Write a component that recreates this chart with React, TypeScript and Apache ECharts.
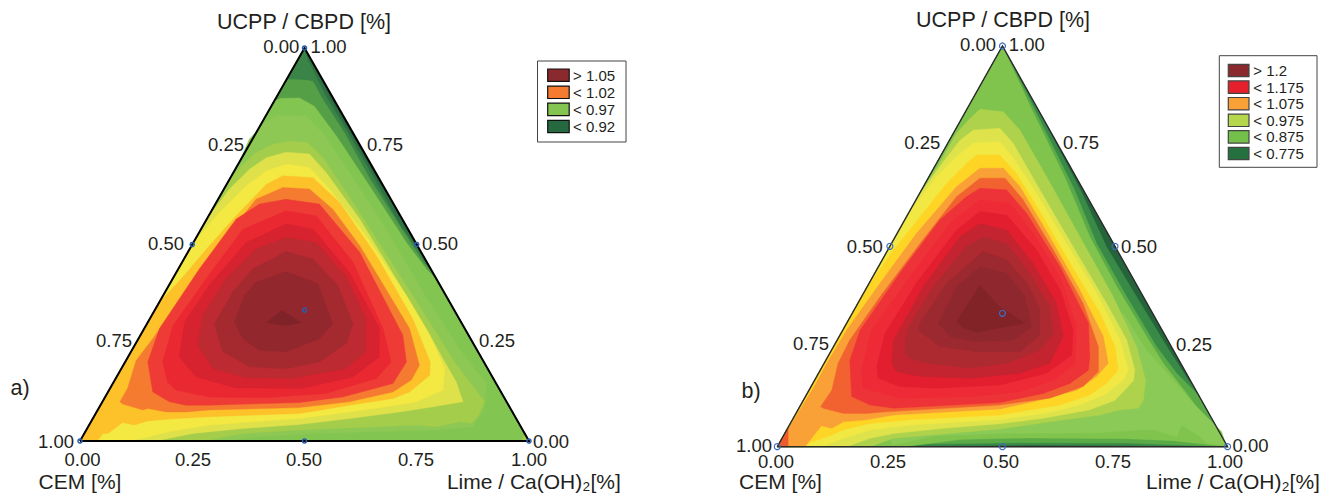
import React, { useEffect, useRef } from "react";
import * as echarts from "echarts";

type P = [number, number];
// Contour regions, in the plane of each ternary diagram:
// [position along the base in %, height towards the UCPP apex in %]
const triangle: P[] = [[0, 0], [100, 0], [50, 100]];

const aDark1: P[] = [[50,100],[51.1,97.5],[55.6,87.7],[60.3,78.4],[66.2,66.6],[71.8,56.5],[100,0],[0,0]];
const aDark2: P[] = [[50,100],[50.7,97],[54.8,87.7],[59.7,78.4],[65.6,66.6],[71.4,54.8],[76.9,46.3],[100,0],[0,0]];
const aGreen3: P[] = [[46,92],[47.4,92],[50.7,91.8],[51.9,91.5],[54.1,86.9],[58.9,78.4],[64.6,66.6],[71.2,54.8],[76.5,45.5],[78.8,42.5],[100,0],[0,0]];
const aGreen4: P[] = [[43.2,86.5],[44.8,87.2],[48.9,87.3],[52.2,85.2],[57.1,77.6],[64.5,64.9],[72.7,50.5],[77.1,43.8],[79.6,40.8],[100,0],[0,0]];
const aGreen5: P[] = [[35.4,70.8],[37.7,76.8],[40.7,80.6],[43.7,82.8],[50.4,82.7],[54.1,78.4],[60,68.3],[68.2,54],[76.4,37.9],[84.5,23.5],[90.5,14.6],[90.1,8.3],[87.5,3.6],[79.3,2.8],[69.7,2.5],[48.9,1.7],[40,1.1],[32.5,0],[0,0]];
const aOlive: P[] = [[32.9,65.8],[35.9,70],[39.2,73.4],[42.9,75.5],[46.7,76.3],[50.7,75.9],[54.1,72.1],[60.8,60.7],[68.9,46.3],[76.4,32.8],[83.4,20.1],[90.1,10],[88.6,6.2],[87.1,4.5],[84.5,4.9],[79.3,3.6],[74.9,4.1],[63.7,3.5],[48.9,2.8],[36.3,1.9],[27.3,0],[0,0]];
const aLime: P[] = [[28.5,56.9],[33.3,64.1],[37.7,69.1],[41.5,72.1],[45.9,73.5],[51.1,73],[54.8,68.3],[62.3,56.5],[70.4,41.3],[77.1,28.6],[80.8,21],[83.8,15],[85.3,10],[78.6,8.7],[71.2,7.4],[60,5.7],[48.9,4.2],[36.3,3.2],[25.1,1.9],[16.9,0],[0,0]];
const aYellow: P[] = [[24.7,49.7],[31.1,58.2],[37,64.9],[41.5,68.7],[45.9,70.4],[51.1,69.6],[55.6,64.1],[63.7,52.2],[72.7,37],[77.9,26.9],[81.2,18.4],[80.8,12.9],[74.9,10],[70.4,9.1],[60,7.4],[48.9,5.7],[28.8,4.1],[19.9,2.4],[11.4,0],[0,0]];
const aAmber: P[] = [[17.7,35.3],[22.9,41.7],[28.8,49.7],[34.8,57.3],[41.5,65.3],[45.2,67.5],[51.9,67],[57.8,60.7],[66,47.2],[74.1,31.1],[78,20.1],[77.9,16.7],[73.4,12.5],[69.7,10.8],[60,9.1],[48.9,7],[28.8,6.2],[19.9,5.6],[15.1,5.1],[12.1,4.1],[9.5,4.7],[6.2,1.9],[5.1,1.9],[3.9,0],[0,0]];
const aOrange: P[] = [[16.2,26],[12.5,20.5],[10.6,13.4],[8.9,10],[9.5,9.4],[14,7.9],[15.1,8.3],[19.2,7.4],[23.6,7.4],[28.8,7.9],[48.9,8.5],[60,10],[69.7,12.5],[73.8,15.5],[75.6,19.3],[73.4,28.6],[62.3,49.7],[56.3,59],[51.1,64.1],[45.2,64.5],[39.2,61.5],[36.3,57.3],[31.1,50.1],[25.1,40.4],[19.9,32]];
const aRed1: P[] = [[15.1,20.1],[17.7,28.6],[26.6,43.8],[34.8,56.5],[40,60.3],[45.9,61.5],[53.3,60.3],[62.3,48],[71.9,26.9],[72.7,20.1],[69.7,14.6],[58.5,11.2],[48.9,9.8],[28.8,9.1],[23.6,9.1],[19.9,10],[16.2,12.5]];
const aRed2: P[] = [[18.4,20.1],[20.7,29.4],[28.1,41.3],[36.3,53.9],[45.9,58.6],[52.6,57.3],[60.8,45.5],[67.5,28.6],[69.3,20.1],[66,15.9],[54.8,12.1],[41.5,11],[28.8,11.2],[21.4,12.9],[19.5,15]];
const aRed3: P[] = [[22.1,21.4],[23.3,30.3],[28.8,39.6],[37,50.5],[45.9,55.2],[51.9,53.9],[60,42.9],[66.7,28.6],[66.6,21.4],[60.8,16.3],[49.6,13.4],[34.8,13.5],[25.9,16.3]];
const aMaroon1: P[] = [[26.2,24.3],[27.3,32],[32.5,41.3],[39.2,48.9],[45.9,51.8],[52.6,50.5],[59.3,41.7],[63.7,31.1],[63.7,22.7],[59.3,18.4],[47.4,15.9],[37,16.1],[29.6,18.4]];
const aMaroon2: P[] = [[29.9,29.8],[34,37.9],[38.5,43.8],[45.9,48.2],[51.9,46.3],[57.4,39.6],[60.8,29.8],[59.3,24.8],[53.3,20.1],[45.9,18.4],[37.7,18.9],[31.8,22.7]];
const aMaroon3: P[] = [[34.4,30.3],[36.6,37],[39.2,40.4],[45.9,43.1],[53,40],[56.3,29.8],[53.3,26],[45.9,22.7],[40,23.1],[36.3,26]];
const aPeak: P[] = [[41.5,30.1],[45,33.2],[49.3,30.1],[45.9,29.4]];
const aCorner: P[] = [[98.3,0],[99.2,1.9],[100,0]];

const bDark1: P[] = [[50,100],[57.9,84],[67.3,64.1],[73.1,49.9],[79.8,37.4],[86.5,25],[91.3,16.6],[92.7,14.6],[100,0],[87.9,0],[77.6,0.3],[55.4,0.4],[33.2,0.2],[22.1,0],[0,0]];
const bDark2: P[] = [[50,100],[57.2,84],[66,64.1],[70.9,50.7],[77.6,37.4],[84.2,25],[88.7,18.3],[93.5,12.9],[100,0],[87.9,0.5],[77.6,0.9],[55.4,1],[33.2,0.7],[24.3,0],[0,0]];
const bGreen3: P[] = [[50,100],[56.2,84.9],[63.8,67.4],[69.4,52.4],[75.4,39.9],[82,27.5],[85.7,20.8],[90.9,13.3],[95.3,6.7],[100,0],[87.9,1.5],[77.6,2],[55.4,2.2],[40.6,1.8],[28,0],[0,0]];
const bGreen4: P[] = [[76.8,33.3],[82,24.1],[87.2,17.5],[92.4,10.8],[98.7,3.7],[99.6,0.4],[95.3,0.8],[93.9,2.5],[89.8,5.4],[88.7,2.5],[83.5,4.2],[80.5,4.2],[71.6,3.5],[49.4,3.3],[34.6,2.7],[25.8,0.4],[18.4,12.5],[40.6,45.8]];
const bOlive: P[] = [[32.4,64.5],[35.8,70.3],[39.8,78.2],[42.8,81.9],[45,84.2],[50.2,83.6],[53.9,79],[59.8,67.4],[67.2,52.4],[74.6,37.4],[79.8,25],[81.8,16.6],[81.3,11.6],[80.2,9.6],[76.1,9.2],[71.7,7.9],[60.5,6.2],[49.4,4.4],[36.9,3.2],[25.8,2.1],[20.6,0],[0,0]];
const bLime: P[] = [[28,56.2],[31.7,63.2],[36.9,71.1],[40.6,76.5],[43.5,79],[49.4,79.5],[52.4,75.7],[58.3,64.1],[65.7,49.9],[73.1,35.8],[77.6,26.6],[79.4,19.1],[79.1,16.6],[77.9,15],[75,11.6],[69.4,9.2],[59.1,7.1],[49.4,5.7],[36.9,4.6],[25.8,3.3],[20.6,2.1],[15.4,0],[0,0]];
const bYellow: P[] = [[25.4,50.7],[30.2,59.9],[35.4,67.4],[39.8,72.4],[43.5,75.7],[49.4,76.1],[52.4,72],[57.6,63.2],[64.2,50.7],[70.9,38.3],[76.1,26.6],[77.9,19.1],[76.8,16.6],[73.1,13.3],[67.2,10.4],[59.1,8.3],[49.4,6.8],[29.5,5.4],[20.6,4.2],[14.7,2.1],[9.8,0],[0,0]];
const bAmber: P[] = [[19.1,38.3],[25.8,49.1],[31.7,57.4],[37.6,65.7],[42,70.7],[44.3,72.8],[49.4,72.8],[53.1,68.2],[58.3,58.7],[65,45.8],[71.7,33.3],[75,25],[75.7,19.1],[73.1,15.8],[69.4,12.9],[62.8,10.4],[49.4,7.9],[29.5,6.7],[20.6,5.8],[14.7,4.2],[12.1,2.9],[7.6,1.2],[6.1,0],[0,0]];
const bLightOrange: P[] = [[8.4,15.4],[11,20.8],[15.4,29.1],[22.8,40.8],[30.9,53.2],[39.8,64.9],[45,69.5],[50.2,69.5],[53.9,64.9],[60.5,52.4],[67.2,39.1],[72.4,27.5],[73.5,20.8],[70.9,17.5],[66.5,14.1],[56.8,11.2],[49.4,9.4],[25.8,7.9],[19.8,6.7],[14.7,6.2],[12.1,4.6],[9.8,5.2],[6.1,0],[0,0]];
const bOrange: P[] = [[45,67],[50.6,67],[54.6,61.6],[61.3,49.1],[67.9,35.8],[71.3,25],[71.3,18.7],[67.9,15],[60.5,12.1],[49.4,10.4],[24.3,8.7],[19.8,8.3],[14.7,8.3],[10.2,9.6],[9.6,10],[12.1,14.1],[13.5,20.8],[16.1,26.6],[22.8,37.4],[31.7,50.7],[39.8,62.4]];
const bRed1: P[] = [[45,64.5],[50.9,64.1],[55.4,58.2],[62.8,44.9],[69.1,30.8],[69.4,22.5],[69.1,19.1],[65,15.8],[59.1,13.3],[49.4,11],[25.8,9.6],[20.6,10.4],[16.5,12.5],[16.1,21.6],[18.4,29.1],[27.2,43.3],[36.1,56.6],[42,62.4]];
const bRed2: P[] = [[45,61.6],[51.7,60.7],[56.8,53.2],[62.8,42.4],[66.5,30],[66.1,20.8],[61.3,16.6],[53.9,13.7],[43.5,12.5],[27.2,12.1],[19.1,14.6],[18.7,19.1],[20.9,29.1],[29.5,42.4],[38.3,55.7]];
const bRed3: P[] = [[45,58.7],[50.9,57.8],[57.6,49.1],[62.8,39.1],[65.7,29.1],[65.4,22.9],[59.8,18.3],[49.4,15.4],[35.4,14.6],[27.2,15],[22.4,17.1],[22.1,20],[23.9,28.3],[30.9,40.8],[39.8,54.1]];
const bMaroon1: P[] = [[25.4,20.8],[25.8,26.6],[32.4,39.9],[40.6,52.4],[45,55.7],[50.9,54.1],[56.8,45.8],[62,35.8],[63.5,27.5],[60.5,20.8],[53.9,18.3],[43.5,17.1],[31.7,17.5],[26.5,18.7]];
const bMaroon2: P[] = [[28.3,23.3],[28.7,29.1],[34.6,39.9],[42,49.9],[45.7,52.4],[50.9,50.7],[56.1,43.3],[60.5,34.9],[61.3,28.3],[58.3,24.1],[50.9,20.8],[42.8,19.6],[33.2,20.8],[29.5,22]];
const bMaroon3: P[] = [[31.3,29.1],[31.7,30.8],[37.6,40.8],[43.5,46.6],[45.7,48.7],[50.9,46.6],[55.4,40.8],[58.3,34.5],[58.3,27.9],[53.9,23.7],[44.3,23.7],[36.1,25]];
const bMaroon4: P[] = [[35.8,30.8],[39.8,39.9],[45,44.9],[50.9,43.3],[55,37.4],[56.5,29.9],[52.4,26.6],[44.3,26.2],[38.3,27.5]];
const bPeak: P[] = [[45,40.3],[39.8,31.2],[41.3,29.7],[44.3,28.5],[50.9,30],[55,30.8],[49.4,34.9]];
const bCorner: P[] = [[0,0],[2.4,0],[2.4,4.6]];

const regionsA = [triangle, aDark1, aDark2, aGreen3, aGreen4, aGreen5, aOlive, aLime, aYellow, aAmber, aOrange, aRed1, aRed2, aRed3, aMaroon1, aMaroon2, aMaroon3, aPeak, aCorner];
const coloursA = ["#235c39", "#2f7142", "#3a8447", "#55a047", "#82c550", "#8cc853", "#a5cd4c", "#dfe14a", "#f4e842", "#fdc12a", "#f47b30", "#ef3b36", "#ea2832", "#d7222f", "#bd2a31", "#a52a30", "#92272d", "#7f2329", "#a5cd4c"];
const regionsB = [triangle, bDark1, bDark2, bGreen3, bGreen4, bOlive, bLime, bYellow, bAmber, bLightOrange, bOrange, bRed1, bRed2, bRed3, bMaroon1, bMaroon2, bMaroon3, bMaroon4, bPeak, bCorner];
const coloursB = ["#25633b", "#3a8a47", "#5aab48", "#80c44e", "#8bca56", "#afd24c", "#dfe34b", "#f2e843", "#fed525", "#f9a037", "#f26230", "#ee3338", "#ed2a36", "#e21e2f", "#c42430", "#ad2a30", "#9c2830", "#8f282e", "#822328", "#ee5a2c"];

// Sampled compositions shown by the blue circles
const markers: P[] = [[50, 100], [0, 0], [100, 0], [25, 50], [75, 50], [50, 33.3], [50, 0]];

const tickLabels = ["0.00", "0.25", "0.50", "0.75", "1.00"];
const topTitle = "UCPP / CBPD [%]";
const leftTitle = "CEM [%]";
const rightTitle = "Lime / Ca(OH)₂[%]";
const legendA = ["> 1.05", "< 1.02", "< 0.97", "< 0.92"];
const legendColoursA = ["#8b2a2e", "#f47b30", "#83c550", "#26693f"];
const legendB = ["> 1.2", "< 1.175", "< 1.075", "< 0.975", "< 0.875", "< 0.775"];
const legendColoursB = ["#8b2a2e", "#e61f2d", "#f9a037", "#b5d74c", "#74bf4a", "#25703f"];

const FONT = "'Liberation Sans', Arial, sans-serif";
const INK = "#231f20";

const layoutA = {
  grid: { left: 80, top: 48, width: 449, height: 393 },
  top: [304, 22], tag: ["a)", 20, 388], leftName: [80, 481.6], rightName: [533.8, 481.6],
  leftTicks: [[281.3, 46], [226, 144], [166, 243], [114, 340], [56, 441]],
  rightTicks: [[551, 441], [497, 340], [440, 243], [385, 144], [328.5, 46]],
  baseTicks: [[82.5, 459], [193, 459], [304, 459], [416, 459], [529, 459]],
  box: [537.5, 61, 88.5, 81], swatch: [547.7, 69, 21.5, 12.4], pitch: 17.1, textX: 573,
  boxBorder: "#444", swatchBorder: "#111", line: "#000", lineWidth: 2, marker: 4, markerBorder: 1.5, markerColour: "#2a5fb0",
};
const layoutB = {
  grid: { left: 777.3, top: 46, width: 450.3, height: 400.7 },
  top: [1003, 20], tag: ["b)", 751, 391], leftName: [780.5, 481.6], rightName: [1233, 481.6],
  leftTicks: [[978, 44.7], [922.3, 142.7], [864.7, 246], [811, 343.3], [754, 445]],
  rightTicks: [[1250.5, 445], [1194, 344], [1139, 246], [1081, 142.7], [1026.7, 44.7]],
  baseTicks: [[776, 461.8], [888, 461.8], [1001, 461.8], [1113, 461.8], [1225, 461.8]],
  box: [1219.3, 55.7, 97.7, 111.6], swatch: [1228.3, 64.3, 20.7, 12.4], pitch: 16.6, textX: 1253.3,
  boxBorder: "#444", swatchBorder: "#444", line: "#2b2b2b", lineWidth: 1.4, marker: 6, markerBorder: 1.2, markerColour: "#3d6cc0",
};

function txt(text: string, x: number, y: number, size: number, align = "center") {
  return {
    type: "text", x, y, silent: true,
    style: { text, fontFamily: FONT, fontSize: size, fill: INK, align, verticalAlign: "middle" },
  };
}

function diagramGraphics(l: any, legend: string[], colours: string[]) {
  const out: any[] = [];
  out.push(txt(topTitle, l.top[0], l.top[1], 21.5));
  out.push(txt(l.tag[0], l.tag[1], l.tag[2], 21.5));
  out.push(txt(leftTitle, l.leftName[0], l.leftName[1], 21));
  out.push(txt(rightTitle, l.rightName[0], l.rightName[1], 21));
  tickLabels.forEach((t, i) => {
    out.push(txt(t, l.leftTicks[i][0], l.leftTicks[i][1], 18.5));
    out.push(txt(t, l.rightTicks[i][0], l.rightTicks[i][1], 18.5));
    out.push(txt(t, l.baseTicks[i][0], l.baseTicks[i][1], 18.5));
  });
  const [bx, by, bw, bh] = l.box;
  out.push({ type: "rect", silent: true, shape: { x: bx, y: by, width: bw, height: bh }, style: { fill: "#fff", stroke: l.boxBorder, lineWidth: 1 } });
  const [sx, sy, sw, sh] = l.swatch;
  legend.forEach((t, i) => {
    const y = sy + i * l.pitch;
    out.push({ type: "rect", silent: true, shape: { x: sx, y, width: sw, height: sh }, style: { fill: colours[i], stroke: l.swatchBorder, lineWidth: 1.2 } });
    out.push(txt(t, l.textX, y + sh / 2, 15, "left"));
  });
  return out;
}

function diagramSeries(index: number, regions: P[][], colours: string[], l: any) {
  return [
    {
      type: "custom", coordinateSystem: "cartesian2d", xAxisIndex: index, yAxisIndex: index, silent: true, clip: false,
      data: regions.map((_, i) => [i, 0]),
      renderItem: (params: any, api: any) => {
        const i = params.dataIndex;
        return {
          type: "polygon",
          shape: { points: regions[i].map((p) => api.coord(p)) },
          style: { fill: colours[i], stroke: colours[i], lineWidth: 0.4 },
        };
      },
      z: 2,
    },
    {
      type: "line", xAxisIndex: index, yAxisIndex: index, silent: true, clip: false, symbol: "none",
      data: [...triangle, triangle[0]],
      lineStyle: { color: l.line, width: l.lineWidth, join: "miter" }, z: 3,
    },
    {
      type: "scatter", xAxisIndex: index, yAxisIndex: index, silent: true, clip: false,
      data: markers, symbol: "circle", symbolSize: l.marker,
      itemStyle: { color: "rgba(255,255,255,0)", borderColor: l.markerColour, borderWidth: l.markerBorder, opacity: 1 }, z: 4,
    },
  ];
}

const hiddenAxis = (gridIndex: number) => ({ type: "value", gridIndex, min: 0, max: 100, show: false });

export default function App() {
  const ref = useRef<HTMLDivElement>(null);
  useEffect(() => {
    document.body.style.margin = "0";
    document.body.style.background = "#fff";
    const chart = echarts.init(ref.current!, null, { renderer: "svg" });
    chart.setOption({
      animation: false,
      backgroundColor: "#fff",
      grid: [
        { ...layoutA.grid, containLabel: false },
        { ...layoutB.grid, containLabel: false },
      ],
      xAxis: [hiddenAxis(0), hiddenAxis(1)],
      yAxis: [hiddenAxis(0), hiddenAxis(1)],
      series: [
        ...diagramSeries(0, regionsA, coloursA, layoutA),
        ...diagramSeries(1, regionsB, coloursB, layoutB),
      ],
      graphic: { elements: [...diagramGraphics(layoutA, legendA, legendColoursA), ...diagramGraphics(layoutB, legendB, legendColoursB)] },
    });
    return () => chart.dispose();
  }, []);
  return <div ref={ref} style={{ position: "absolute", left: 0, top: 0, width: 1335, height: 493 }} />;
}
